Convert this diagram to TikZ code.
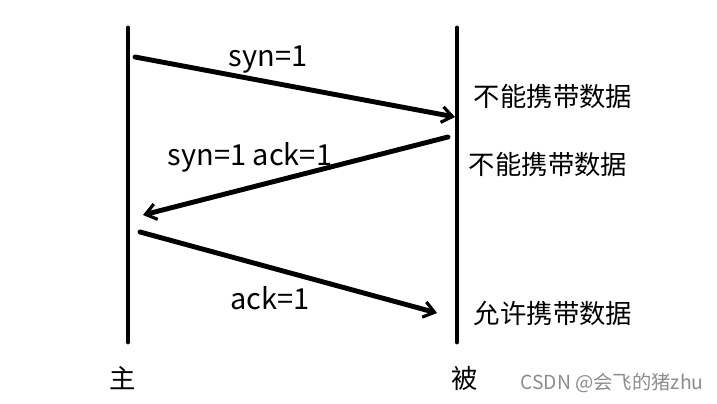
\documentclass[tikz,border=0pt]{standalone}
\usepackage{fontspec}
\setmainfont{Noto Sans CJK SC}
\usepackage{tikz}
\usetikzlibrary{arrows.meta,positioning}

\begin{document}
\begin{tikzpicture}[
    x=0.02cm, y=-0.02cm,
    lifeline/.style={line width=2.8pt, line cap=round},
    msg/.style={line width=2.8pt, line cap=round, -{Straight Barb[length=6pt, width=9pt, line width=1.8pt]}},
    lbl/.style={font=\fontsize{15}{18}\selectfont, inner sep=0pt},
    flag/.style={font=\fontsize{16.5}{19}\selectfont, inner sep=0pt},
    wmark/.style={font=\fontsize{11}{13}\selectfont, text=black!45, inner sep=0pt}
  ]
    \useasboundingbox (0,0) rectangle (717,404);

    % lifelines
    \coordinate (ltop) at (128,28);
    \coordinate (lbot) at (128,342);
    \coordinate (rtop) at (457,28);
    \coordinate (rbot) at (457,342);
    \draw[lifeline] (ltop) -- (lbot);
    \draw[lifeline] (rtop) -- (rbot);

    % message ends
    \coordinate (s1) at (135,57);
    \coordinate (e1) at (455,117);
    \coordinate (s2) at (448,137);
    \coordinate (e2) at (143,215);
    \coordinate (s3) at (140,232);
    \coordinate (e3) at (437,313);

    \draw[msg] (s1) -- (e1);
    \draw[msg] (s2) -- (e2);
    \draw[msg] (s3) -- (e3);

    \node[flag] (synlbl)    at (268,60)  {syn=1};
    \node[flag] (synacklbl) at (250,157) {syn=1 ack=1};
    \node[flag] (acklbl)    at (270,298) {ack=1};

    \node[lbl] (state1) at (553,97)  {不能携带数据};
    \node[lbl] (state2) at (548,165) {不能携带数据};
    \node[lbl] (state3) at (553,313) {允许携带数据};

    \node[lbl] (zhu) at (123,378) {主};
    \node[lbl] (bei) at (465,378) {被};

    \node[wmark] (wm) at (612,383) {CSDN @会飞的猪zhu};
\end{tikzpicture}
\end{document}
